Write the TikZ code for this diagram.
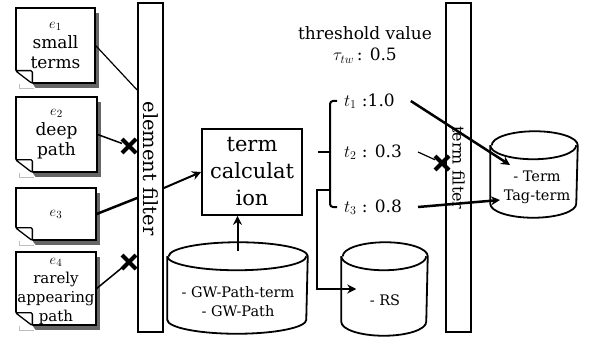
\documentclass[tikz,border=0pt]{standalone}
\usepackage{fontspec}
\setmainfont{DejaVu Serif}
\usetikzlibrary{shapes.misc,shadows,arrows.meta}

\tikzset{
    doc/.style={draw, fill=white, line width=1.3pt, align=center, inner sep=1pt,
        font=\fontsize{17}{20}\selectfont,
        drop shadow={shadow xshift=4pt, shadow yshift=-5pt, fill=black!60, opacity=1}},
    bar/.style={draw, fill=white, line width=1.8pt, minimum width=25pt, minimum height=329pt},
    dbbox/.style={rectangle, inner sep=0pt},
    dbtext/.style={align=center, font=\fontsize{14.5}{19}\selectfont},
    xmark/.style={cross out, draw, line width=4pt, minimum size=10pt, inner sep=0pt},
    arr/.style={-{Stealth[length=9pt,width=9pt]}, line width=2pt},
}

% folded corner of a document node
\newcommand{\docfold}[1]{
    \fill[white] ([shift={(-2pt,14.5pt)}]#1.south west) -- ([shift={(-2pt,-7pt)}]#1.south west)
        -- ([shift={(22pt,-7pt)}]#1.south west) -- ([shift={(17pt,0pt)}]#1.south west) -- cycle;
    \draw[black!25, line width=0.8pt] ([shift={(4pt,0pt)}]#1.south west) -- ([shift={(4pt,-5pt)}]#1.south west)
        -- ([shift={(19pt,-5pt)}]#1.south west);
    \draw[fill=white, line width=1.3pt, rounded corners=1.5pt] ([shift={(0pt,13pt)}]#1.south west)
        -- ([shift={(17pt,13pt)}]#1.south west) -- ([shift={(17pt,0pt)}]#1.south west) -- cycle;
}

% cylinder drawn round a store node: #1 node, #2 half width
\newcommand{\dbdraw}[2]{
    \draw[line width=1.8pt, fill=white] ([yshift=-14pt]#1.north west) -- ([yshift=14pt]#1.south west)
        arc[start angle=180, end angle=360, x radius=#2, y radius=14pt]
        -- ([yshift=-14pt]#1.north east)
        arc[start angle=0, end angle=180, x radius=#2, y radius=14pt];
    \draw[line width=1.8pt] ([yshift=-14pt]#1.north west)
        arc[start angle=180, end angle=360, x radius=#2, y radius=14pt];
}

\begin{document}
\begin{tikzpicture}[x=1pt, y=-1pt, line width=1.5pt]
    \useasboundingbox (0,0) rectangle (596,342);

    % input elements
    \node[doc, minimum width=79, minimum height=75] (e1) at (55.5,45.5) {{\fontsize{15}{15}\selectfont$e_1$}\\small\\terms};
    \node[doc, minimum width=81, minimum height=75] (e2) at (56.5,134.5) {{\fontsize{15}{15}\selectfont$e_2$}\\deep\\path};
    \node[doc, minimum width=80, minimum height=52] (e3) at (56,214) {{\fontsize{15}{15}\selectfont$e_3$}};
    \node[doc, minimum width=80, minimum height=73, inner sep=0pt, font=\fontsize{15}{19}\selectfont] (e4) at (56,288.5) {\rule{0pt}{12pt}$e_4$\\rarely\\appearing\\path};
    \docfold{e1}
    \docfold{e2}
    \docfold{e3}
    \docfold{e4}

    % filters
    \node[bar] (efilter) at (150.5,167.5) {};
    \node[rotate=-90, font=\fontsize{19.5}{19.5}\selectfont] (eflabel) at (150.5,168.5) {element filter};
    \node[bar] (tfilter) at (458.5,167.5) {};
    \node[rotate=-90, font=\fontsize{16}{16}\selectfont] (tflabel) at (458.5,168) {term filter};

    \node[draw, line width=1.8pt, minimum width=100, minimum height=86, align=center,
        font=\fontsize{21}{27}\selectfont] (tcalc) at (252,172) {term\\calculat\\ion};

    % stores
    \node[dbbox, minimum width=139, minimum height=90] (gw) at (237.5,288) {};
    \node[dbbox, minimum width=85, minimum height=92] (rs) at (384.5,289) {};
    \node[dbbox, minimum width=86, minimum height=85] (tag) at (534,174.5) {};
    \dbdraw{gw}{69.5pt}
    \dbdraw{rs}{42.5pt}
    \dbdraw{tag}{43pt}
    \node[dbtext] (gwtext) at (238,301.5) {- GW-Path-term\\- GW-Path};
    \node[dbtext] (rstext) at (385,300) {- RS};
    \node[dbtext] (tagtext) at (537,187) {- Term\\Tag-term};

    % term values
    \node[align=center, font=\fontsize{17}{21}\selectfont] (thr) at (365,45) {threshold value\\$\tau_{tw}$\,: 0.5};
    \node[anchor=west, font=\fontsize{17}{21}\selectfont] (t1) at (340,101) {$t_1$ :1.0};
    \node[anchor=west, font=\fontsize{17}{21}\selectfont] (t2) at (340,152) {$t_2$ : 0.3};
    \node[anchor=west, font=\fontsize{17}{21}\selectfont] (t3) at (340,207) {$t_3$ : 0.8};

    \node[xmark] (x2) at (129,146) {};
    \node[xmark] (x4) at (129,262) {};
    \node[xmark] (x6) at (442,163) {};

    \coordinate (brk) at (330,152);
    \coordinate (brk3) at (330,190);
    \coordinate (tagin1) at (510,165);
    \coordinate (tagin3) at (500,200);

    % connectors
    \draw[line width=1.2pt] (e1.east) -- (efilter.west |- 0,90);
    \draw[line width=1.5pt] (e2.east) -- (x2);
    \draw[line width=2.5pt] (e3.east) -- (efilter.west |- 0,198);
    \draw[line width=1.5pt] (e4.east) -- (x4);
    \draw[arr] (efilter.east |- 0,188) -- (tcalc.west);
    \draw[arr] ([yshift=-9pt]gw.north) -- (tcalc.south -| gw.north);

    \draw[line width=2pt, rounded corners=3pt] ([xshift=-3pt]t1.west) -| (brk) |- ([xshift=-3pt]t3.west);
    \draw[line width=2pt] (brk) -- ++(-12,0);
    \draw[arr] (brk3) -| ([xshift=-24pt]rs.west) -- ([xshift=15pt]rs.west);

    \draw[arr, line width=2.5pt] ([xshift=12pt]t1.east) -- (tagin1);
    \draw[line width=1.2pt] ([xshift=12pt]t2.east) -- (x6);
    \draw[arr, line width=2.5pt] ([xshift=12pt]t3.east) -- (tagin3);
\end{tikzpicture}
\end{document}
